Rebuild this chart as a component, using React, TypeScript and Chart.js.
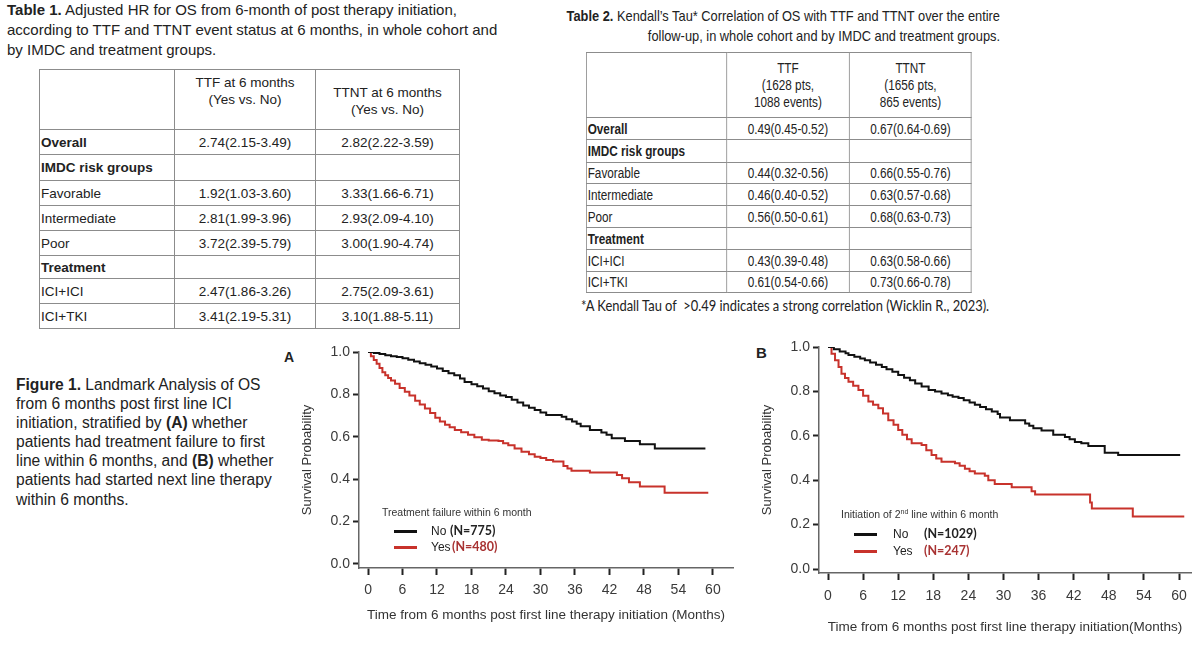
import React, { useEffect, useRef } from "react";
import { Chart, registerables } from "chart.js";

Chart.register(...registerables);

// ---- Kaplan–Meier step data (months, survival probability) ----
const monthTicks = [0, 6, 12, 18, 24, 30, 36, 42, 48, 54, 60];
const survivalTicks = [0, 0.2, 0.4, 0.6, 0.8, 1.0];

// Panel A: treatment failure within 6 months
const ttfNoTimes = [0, 1, 2, 3, 4, 5, 6, 7, 8, 9, 10, 11, 12, 13, 14, 15, 16, 16.8, 18, 19, 20, 21, 22, 23, 24, 25, 26, 27, 28, 29, 30, 31, 33.7, 34.5, 35.5, 36.3, 37, 38.6, 40.6, 41.5, 42.4, 44.7, 47.3, 49.9, 58.7];
const ttfNoSurv = [1, 0.995, 0.99, 0.985, 0.98, 0.977, 0.97, 0.963, 0.955, 0.947, 0.94, 0.932, 0.922, 0.91, 0.9, 0.89, 0.875, 0.858, 0.848, 0.838, 0.828, 0.815, 0.805, 0.795, 0.788, 0.775, 0.762, 0.748, 0.737, 0.726, 0.715, 0.703, 0.695, 0.683, 0.672, 0.662, 0.65, 0.632, 0.62, 0.61, 0.593, 0.58, 0.565, 0.545, 0.545];
const ttfYesTimes = [0, 0.5, 1, 1.5, 2, 2.5, 3, 3.5, 4, 4.7, 5.5, 6.4, 7.2, 8.2, 9, 9.9, 10.8, 11.7, 12.5, 13.4, 14.2, 15.1, 16.2, 17.4, 18.5, 19.8, 21, 22.7, 23.5, 24.4, 25.5, 26.7, 28, 29, 30, 31, 32.2, 34, 34.7, 35.4, 38.6, 43.3, 44.2, 45.4, 47.3, 51.6, 59.2];
const ttfYesSurv = [1, 0.98, 0.962, 0.945, 0.925, 0.905, 0.89, 0.877, 0.865, 0.85, 0.83, 0.812, 0.795, 0.77, 0.752, 0.734, 0.712, 0.69, 0.672, 0.657, 0.645, 0.632, 0.622, 0.61, 0.598, 0.586, 0.582, 0.58, 0.57, 0.56, 0.545, 0.53, 0.518, 0.506, 0.5, 0.49, 0.483, 0.462, 0.45, 0.44, 0.432, 0.42, 0.404, 0.385, 0.365, 0.336, 0.336];

// Panel B: initiation of 2nd line within 6 months
const ttntNoTimes = [0, 1, 2, 3, 3.5, 4.5, 5.5, 6.3, 7.2, 8.2, 9.2, 10, 11, 12, 13, 14, 14.9, 16, 17.2, 18.3, 19.4, 20.5, 21.3, 22.3, 23.2, 24.2, 25.1, 26, 27, 28, 29, 29.4, 31.1, 33.7, 34.4, 35.1, 36.5, 38.5, 40.5, 41.3, 42.2, 43.3, 44.5, 47.3, 49.6, 60.2];
const ttntNoSurv = [1, 0.99, 0.98, 0.972, 0.964, 0.956, 0.948, 0.94, 0.93, 0.92, 0.91, 0.9, 0.888, 0.874, 0.862, 0.85, 0.836, 0.822, 0.806, 0.8, 0.79, 0.783, 0.776, 0.77, 0.76, 0.75, 0.74, 0.73, 0.72, 0.71, 0.698, 0.683, 0.67, 0.655, 0.645, 0.634, 0.624, 0.605, 0.595, 0.585, 0.572, 0.566, 0.554, 0.524, 0.514, 0.514];
const ttntYesTimes = [0, 0.6, 1.2, 1.8, 2.3, 2.9, 3.5, 4.3, 5.2, 6, 6.9, 7.7, 8.6, 9.4, 10.3, 11.2, 12, 12.7, 13.5, 14.3, 16, 16.8, 17.7, 18.5, 19.4, 21.7, 22.5, 23.4, 24.2, 25.1, 26.8, 27.4, 28.5, 31.4, 34.8, 35.4, 44.8, 45.1, 52.1, 60.9];
const ttntYesSurv = [1, 0.97, 0.94, 0.91, 0.88, 0.86, 0.844, 0.825, 0.806, 0.78, 0.754, 0.74, 0.724, 0.7, 0.67, 0.65, 0.626, 0.605, 0.585, 0.566, 0.559, 0.535, 0.513, 0.498, 0.483, 0.476, 0.465, 0.452, 0.44, 0.43, 0.42, 0.4, 0.383, 0.368, 0.35, 0.336, 0.3, 0.273, 0.236, 0.236];

// ---- Table contents ----
const rowLabels = ["Overall", "IMDC risk groups", "Favorable", "Intermediate", "Poor", "Treatment", "ICI+ICI", "ICI+TKI"];
const boldRows = [true, true, false, false, false, true, false, false];
const hrTtf = ["2.74(2.15-3.49)", "", "1.92(1.03-3.60)", "2.81(1.99-3.96)", "3.72(2.39-5.79)", "", "2.47(1.86-3.26)", "3.41(2.19-5.31)"];
const hrTtnt = ["2.82(2.22-3.59)", "", "3.33(1.66-6.71)", "2.93(2.09-4.10)", "3.00(1.90-4.74)", "", "2.75(2.09-3.61)", "3.10(1.88-5.11)"];
const tauTtf = ["0.49(0.45-0.52)", "", "0.44(0.32-0.56)", "0.46(0.40-0.52)", "0.56(0.50-0.61)", "", "0.43(0.39-0.48)", "0.61(0.54-0.66)"];
const tauTtnt = ["0.67(0.64-0.69)", "", "0.66(0.55-0.76)", "0.63(0.57-0.68)", "0.68(0.63-0.73)", "", "0.63(0.58-0.66)", "0.73(0.66-0.78)"];

const SANS = '"Liberation Sans", Arial, Helvetica, sans-serif';
const CAL = 'Lato, "Open Sans", sans-serif';
const BLACK = "#111111";
const RED = "#c8322b";
const NARROW_SCALE = 0.84;

type Series = { times: number[]; surv: number[]; color: string };

type KMProps = {
  left: number; top: number; width: number; height: number;
  yAxisWidth: number; xAxisHeight: number; padTop: number; padRight: number;
  xMin: number; xMax: number; yMin: number;
  series: Series[]; xTitle: string; xTitlePad: number; yTitlePad: number; tickPad: number;
};

function KMChart(p: KMProps) {
  const ref = useRef<HTMLCanvasElement | null>(null);
  useEffect(() => {
    if (!ref.current) return;
    const chart = new Chart(ref.current, {
      type: "line",
      data: {
        datasets: p.series.map((s) => ({
          data: s.times.map((t, i) => ({ x: t, y: s.surv[i] })),
          borderColor: s.color,
          borderWidth: 2,
          stepped: true,
          pointRadius: 0,
          fill: false,
        })),
      },
      options: {
        animation: false,
        responsive: false,
        maintainAspectRatio: false,
        layout: { padding: { top: p.padTop, right: p.padRight, left: 0, bottom: 0 } },
        plugins: { legend: { display: false }, tooltip: { enabled: false } },
        scales: {
          x: {
            type: "linear",
            min: p.xMin,
            max: p.xMax,
            afterBuildTicks: (s: any) => { s.ticks = monthTicks.map((v) => ({ value: v })); },
            afterFit: (s: any) => { s.height = p.xAxisHeight; },
            grid: { drawOnChartArea: false, drawTicks: true, tickLength: 7, tickColor: "#222", tickWidth: 2 },
            border: { display: true, color: "#666", width: 1.5 },
            ticks: { autoSkip: false, maxRotation: 0, padding: p.tickPad, color: "#3a3a3a", font: { family: SANS, size: 14 }, callback: (v: any) => String(v) },
            title: { display: true, text: p.xTitle, color: "#333", font: { family: SANS, size: 13.5 }, padding: { top: 0, bottom: p.xTitlePad } },
          },
          y: {
            type: "linear",
            min: p.yMin,
            max: 1,
            afterBuildTicks: (s: any) => { s.ticks = survivalTicks.map((v) => ({ value: v })); },
            afterFit: (s: any) => { s.width = p.yAxisWidth; },
            grid: { drawOnChartArea: false, drawTicks: true, tickLength: 6, tickColor: "#222", tickWidth: 2 },
            border: { display: true, color: "#666", width: 1.5 },
            ticks: { padding: 3, color: "#3a3a3a", font: { family: SANS, size: 14 }, callback: (v: any) => Number(v).toFixed(1) },
            title: { display: true, text: "Survival Probability", color: "#333", font: { family: SANS, size: 13 }, padding: { top: p.yTitlePad, bottom: 0 } },
          },
        },
      },
    });
    return () => chart.destroy();
  }, []);
  return (
    <canvas
      ref={ref}
      width={p.width}
      height={p.height}
      style={{ position: "absolute", left: p.left, top: p.top, width: p.width, height: p.height }}
    />
  );
}

function Txt(props: { x: number; y: number; size: number; family?: string; bold?: boolean; color?: string; scaleX?: number; children: React.ReactNode }) {
  const lh = Math.round(props.size * 1.25);
  return (
    <div
      style={{
        position: "absolute",
        left: props.x,
        top: props.y - lh / 2,
        lineHeight: lh + "px",
        fontSize: props.size,
        fontFamily: props.family || SANS,
        fontWeight: props.bold ? 700 : 400,
        color: props.color || "#222",
        whiteSpace: "nowrap",
        transform: props.scaleX ? `scaleX(${props.scaleX})` : undefined,
        transformOrigin: "left center",
      }}
    >
      {props.children}
    </div>
  );
}

function LegendLine(props: { x: number; y: number; color: string }) {
  return <div style={{ position: "absolute", left: props.x, top: props.y - 1.5, width: 23, height: 3, background: props.color }} />;
}

const cellBorder = "1.5px solid #8c8c8c";
const t1Cols = [135, 141, 144];
const t2Cols = [140, 123, 122];

export default function App() {
  const t1Rows = [25, 26, 25, 25, 25, 23, 25, 25];
  const t2Rows = [22, 23, 21, 22, 22, 22, 22, 21];
  return (
    <div style={{ position: "fixed", left: 0, top: 0, width: 1200, height: 645, background: "#fff", overflow: "hidden", fontFamily: SANS, color: "#222" }}>
      {/* Table 1 caption */}
      <div style={{ position: "absolute", left: 7, top: 0, fontSize: 15, lineHeight: "20px", whiteSpace: "nowrap" }}>
        <b>Table 1.</b> Adjusted HR for OS from 6-month of post therapy initiation,<br />
        according to TTF and TTNT event status at 6 months, in whole cohort and<br />
        by IMDC and treatment groups.
      </div>

      {/* Table 1 */}
      <table style={{ position: "absolute", left: 39, top: 69, width: 420, borderCollapse: "collapse", tableLayout: "fixed", fontSize: 13.5, fontFamily: SANS, color: "#222" }}>
        <colgroup>
          {t1Cols.map((w, i) => <col key={i} style={{ width: w }} />)}
        </colgroup>
        <tbody>
          <tr style={{ height: 60 }}>
            <td style={{ border: cellBorder }} />
            <td style={{ border: cellBorder, textAlign: "center", verticalAlign: "top", paddingTop: 4, lineHeight: "17px" }}>TTF at 6 months<br />(Yes vs. No)</td>
            <td style={{ border: cellBorder, textAlign: "center", verticalAlign: "middle", paddingTop: 3, lineHeight: "17px" }}>TTNT at 6 months<br />(Yes vs. No)</td>
          </tr>
          {rowLabels.map((lab, i) => (
            <tr key={lab} style={{ height: t1Rows[i] }}>
              <td style={{ border: cellBorder, padding: "0 0 0 1px", fontWeight: boldRows[i] ? 700 : 400, whiteSpace: "nowrap" }}>{lab}</td>
              <td style={{ border: cellBorder, padding: 0, textAlign: "center" }}>{hrTtf[i]}</td>
              <td style={{ border: cellBorder, padding: 0, textAlign: "center" }}>{hrTtnt[i]}</td>
            </tr>
          ))}
        </tbody>
      </table>

      {/* Table 2 caption (condensed type) */}
      <div style={{ position: "absolute", left: 400, width: 600, top: 6, textAlign: "right", fontSize: 15, lineHeight: "20px", whiteSpace: "nowrap", transform: "scaleX(0.855)", transformOrigin: "right top" }}>
        <b>Table 2.</b> Kendall’s Tau* Correlation of OS with TTF and TTNT over the entire<br />
        follow-up, in whole cohort and by IMDC and treatment groups.
      </div>

      {/* Table 2 (condensed type) */}
      <table style={{ position: "absolute", left: 586, top: 52, width: 385 / NARROW_SCALE, borderCollapse: "collapse", tableLayout: "fixed", fontSize: 14, fontFamily: SANS, color: "#222", transform: `scaleX(${NARROW_SCALE})`, transformOrigin: "left top" }}>
        <colgroup>
          {t2Cols.map((w, i) => <col key={i} style={{ width: w / NARROW_SCALE }} />)}
        </colgroup>
        <tbody>
          <tr style={{ height: 65 }}>
            <td style={{ border: cellBorder }} />
            <td style={{ border: cellBorder, textAlign: "center", lineHeight: "17px", padding: 0 }}>TTF<br />(1628 pts,<br />1088 events)</td>
            <td style={{ border: cellBorder, textAlign: "center", lineHeight: "17px", padding: 0 }}>TTNT<br />(1656 pts,<br />865 events)</td>
          </tr>
          {rowLabels.map((lab, i) => (
            <tr key={lab} style={{ height: t2Rows[i] }}>
              <td style={{ border: cellBorder, padding: "0 0 0 1px", fontWeight: boldRows[i] ? 700 : 400, whiteSpace: "nowrap" }}>{lab}</td>
              <td style={{ border: cellBorder, padding: 0, textAlign: "center" }}>{tauTtf[i]}</td>
              <td style={{ border: cellBorder, padding: 0, textAlign: "center" }}>{tauTtnt[i]}</td>
            </tr>
          ))}
        </tbody>
      </table>

      <Txt x={581} y={305} size={15} family={CAL} scaleX={0.86}>*A Kendall Tau of&nbsp; &gt;0.49 indicates a strong correlation (Wicklin R., 2023).</Txt>

      {/* Figure caption */}
      <div style={{ position: "absolute", left: 16, top: 375, fontSize: 15.6, lineHeight: "19.1px", whiteSpace: "nowrap", color: "#222" }}>
        <b>Figure 1.</b> Landmark Analysis of OS<br />
        from 6 months post first line ICI<br />
        initiation, stratified by <b>(A)</b> whether<br />
        patients had treatment failure to first<br />
        line within 6 months, and <b>(B)</b> whether<br />
        patients had started next line therapy<br />
        within 6 months.
      </div>

      {/* Panel A */}
      <Txt x={284} y={357} size={14} bold>A</Txt>
      <KMChart
        left={290} top={340} width={450} height={290}
        yAxisWidth={69} xAxisHeight={62} padTop={12} padRight={7}
        xMin={-1.57} xMax={63.5} yMin={-0.019}
        series={[{ times: ttfNoTimes, surv: ttfNoSurv, color: BLACK }, { times: ttfYesTimes, surv: ttfYesSurv, color: RED }]}
        xTitle="Time from 6 months post first line therapy initiation (Months)"
        xTitlePad={7} yTitlePad={10} tickPad={7}
      />
      <Txt x={382} y={512} size={10.5} color="#333">Treatment failure within 6 month</Txt>
      <LegendLine x={394} y={531} color={BLACK} />
      <LegendLine x={394} y={547} color={RED} />
      <Txt x={431} y={531} size={12} color="#222">No</Txt>
      <Txt x={450} y={531} size={12.5} family={CAL} bold color="#222">(N=775)</Txt>
      <Txt x={431} y={547} size={12} color="#222">Yes</Txt>
      <Txt x={452} y={547} size={12.5} family={CAL} bold color="#a83232">(N=480)</Txt>

      {/* Panel B */}
      <Txt x={756} y={352} size={15} bold>B</Txt>
      <KMChart
        left={750} top={335} width={450} height={305}
        yAxisWidth={69} xAxisHeight={67} padTop={12} padRight={9}
        xMin={-1.54} xMax={62.05} yMin={-0.018}
        series={[{ times: ttntNoTimes, surv: ttntNoSurv, color: BLACK }, { times: ttntYesTimes, surv: ttntYesSurv, color: RED }]}
        xTitle="Time from 6 months post first line therapy initiation(Months)"
        xTitlePad={5} yTitlePad={10} tickPad={8}
      />
      <Txt x={841} y={514} size={10.5} color="#333">Initiation of 2<sup style={{ fontSize: 7, lineHeight: 0 }}>nd</sup> line within 6 month</Txt>
      <LegendLine x={854} y={534} color={BLACK} />
      <LegendLine x={854} y={551} color={RED} />
      <Txt x={893} y={534} size={12} color="#222">No</Txt>
      <Txt x={924} y={534} size={12.5} family={CAL} bold color="#222">(N=1029)</Txt>
      <Txt x={893} y={551} size={12} color="#222">Yes</Txt>
      <Txt x={924} y={551} size={12.5} family={CAL} bold color="#a83232">(N=247)</Txt>
    </div>
  );
}
